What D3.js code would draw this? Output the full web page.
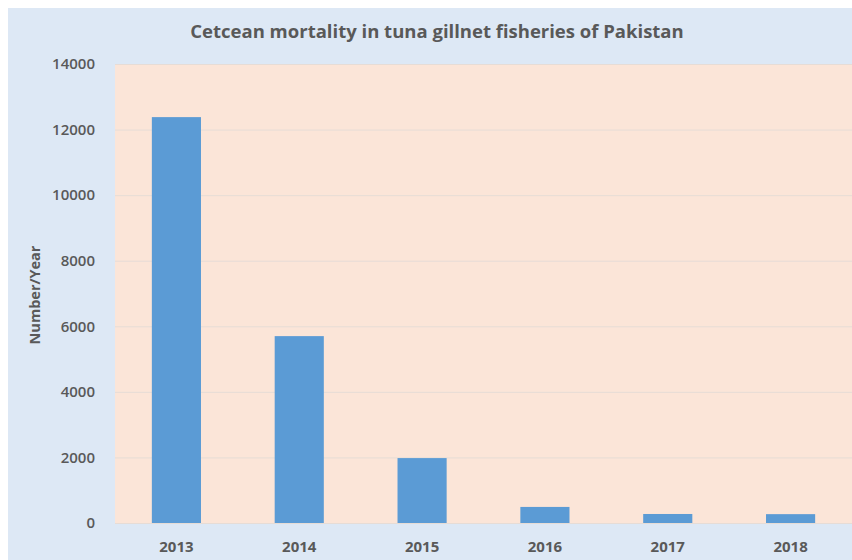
<!DOCTYPE html>
<html>
<head>
<meta charset="utf-8">
<script src="https://cdn.jsdelivr.net/npm/d3@7"></script>
<style>
  body { margin: 0; background: #fff; }
  text { font-family: "Open Sans", "Liberation Sans", sans-serif; fill: #595959; }
</style>
</head>
<body>
<svg id="chart" width="852" height="560"></svg>
<script>
// data
const years = ["2013", "2014", "2015", "2016", "2017", "2018"];
const deaths = [12380, 5700, 1980, 490, 275, 270];
const yTicks = [0, 2000, 4000, 6000, 8000, 10000, 12000, 14000];

const W = 852, H = 560;
const plot = { left: 115, right: 852, top: 64, bottom: 523 };

const svg = d3.select('#chart');

// outer chart area
svg.append('rect')
    .attr('x', 8).attr('y', 8)
    .attr('width', W - 8).attr('height', H - 8)
    .style('fill', '#dde8f5');

// plot area
svg.append('rect')
    .attr('x', plot.left).attr('y', plot.top)
    .attr('width', plot.right - plot.left).attr('height', plot.bottom - plot.top)
    .style('fill', '#fbe5d8');

let x = d3.scaleBand()
    .domain(years)
    .range([plot.left, plot.right])
    .paddingInner(0.6)
    .paddingOuter(0.3);

let y = d3.scaleLinear()
    .domain([0, 14000])
    .range([plot.bottom, plot.top]);

// gridlines
svg.append('g')
    .attr('transform', 'translate(' + plot.left + ',0)')
    .call(d3.axisLeft(y).tickValues(yTicks).tickSize(-(plot.right - plot.left)).tickFormat(''))
    .call(g => g.select('.domain').remove())
    .call(g => g.selectAll('line').style('stroke', '#e6dcd6').style('stroke-width', 1));

// bars
svg.selectAll('rect.bar')
    .data(deaths)
    .enter()
    .append('rect')
        .attr('class', 'bar')
        .attr('x', (d, i) => x(years[i]))
        .attr('y', d => y(d))
        .attr('width', x.bandwidth())
        .attr('height', d => y(0) - y(d))
        .style('fill', '#5b9bd5');

// y axis labels
svg.append('g')
    .attr('transform', 'translate(' + (plot.left - 17) + ',0)')
    .call(d3.axisLeft(y).tickValues(yTicks).tickSize(0).tickFormat(d3.format('d')))
    .call(g => g.select('.domain').remove())
    .call(g => g.selectAll('text')
        .style('font-size', '15px')
        .style('font-weight', '600')
        .style('font-family', '"Open Sans", sans-serif')
        .style('fill', '#595959'));

// x axis labels
svg.append('g')
    .attr('transform', 'translate(0,' + (plot.bottom + 15) + ')')
    .call(d3.axisBottom(x).tickSize(0))
    .call(g => g.select('.domain').remove())
    .call(g => g.selectAll('text')
        .style('font-size', '15px')
        .style('font-weight', 'bold')
        .style('font-family', '"Open Sans", sans-serif')
        .style('fill', '#595959'));

// title
svg.append('text')
    .attr('x', 437).attr('y', 38)
    .attr('text-anchor', 'middle')
    .style('font-size', '18.5px')
    .style('font-weight', 'bold')
    .text('Cetcean mortality in tuna gillnet fisheries of Pakistan');

// y axis title
svg.append('text')
    .attr('transform', 'translate(40,' + 295 + ') rotate(-90)')
    .attr('text-anchor', 'middle')
    .style('font-size', '14.5px')
    .style('font-weight', 'bold')
    .text('Number/Year');
</script>
</body>
</html>
